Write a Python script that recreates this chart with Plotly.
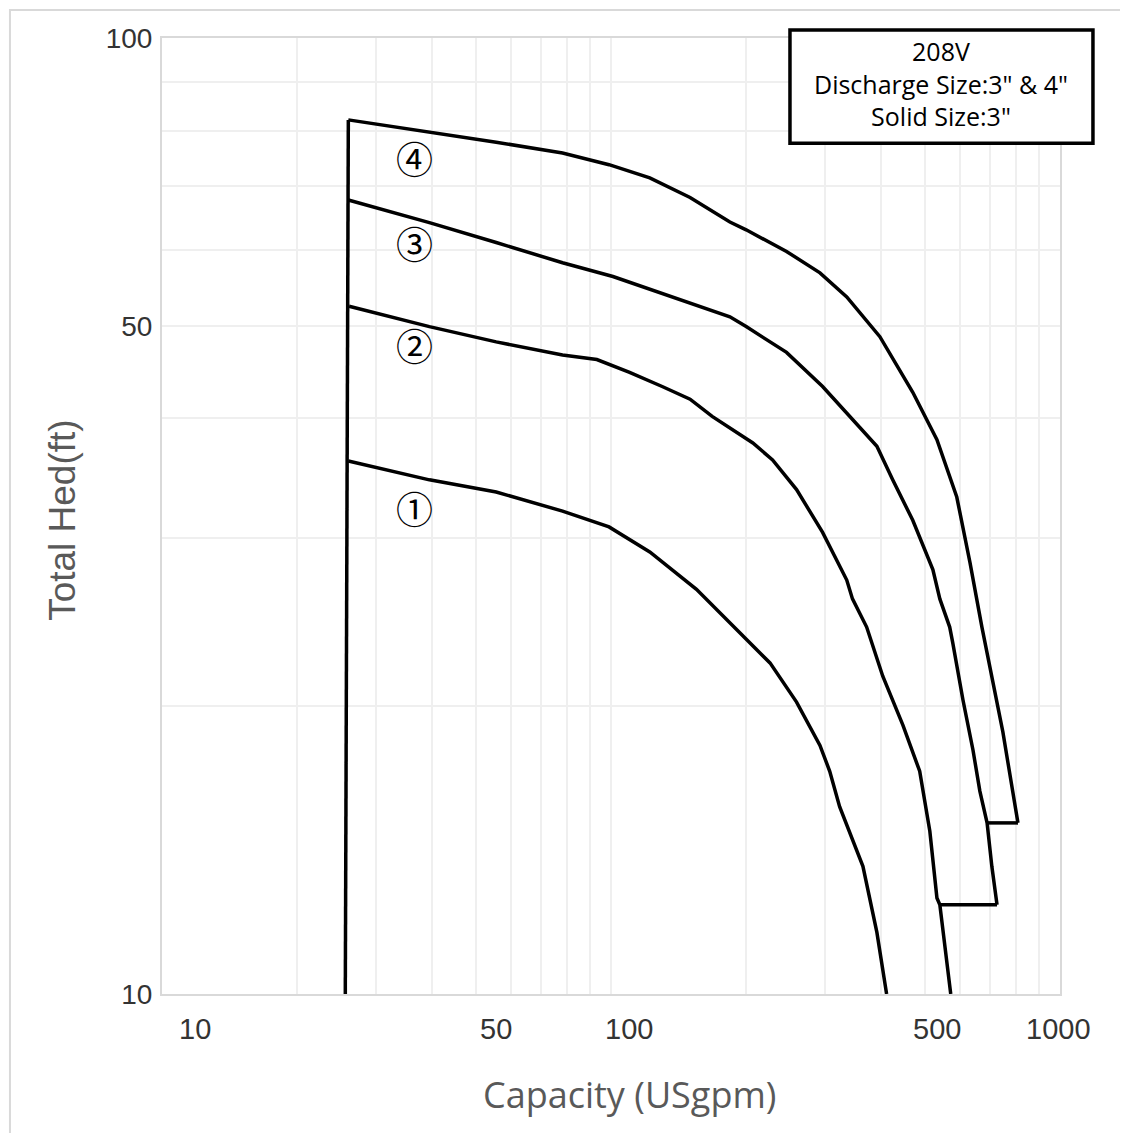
import numpy as np
import plotly.graph_objects as go

# ---- data (Capacity USgpm, Total Head ft) ----
edge_x = [25.6, 26.0]
edge_y = [10.0, 82.1]

c1_x = [26, 39.4, 55.5, 78, 99, 122, 155, 190, 226, 259, 292, 307, 323, 364, 391, 411]
c1_y = [36.1, 34.5, 33.5, 32.0, 30.8, 29.0, 26.5, 24.1, 22.2, 20.2, 18.2, 17.1, 15.7, 13.6, 11.6, 10.0]

c2_x = [26.1, 39.4, 55.5, 78, 93, 110, 130, 150, 168, 207, 229, 259, 296, 335, 345, 371, 403, 447, 487, 513, 532, 540, 571]
c2_y = [52.4, 49.9, 48.1, 46.6, 46.1, 44.7, 43.2, 41.9, 40.2, 37.7, 36.2, 33.7, 30.4, 27.1, 25.9, 24.2, 21.5, 19.1, 17.1, 14.8, 12.6, 12.4, 10.0]

c3_x = [26, 39.4, 55.5, 78, 101, 130, 184, 200, 246, 296, 345, 391, 424, 470, 521, 540, 568, 577, 608, 640, 663, 688, 705, 724]
c3_y = [67.7, 64.1, 61.1, 58.2, 56.3, 54.1, 51.1, 49.9, 46.9, 43.2, 39.9, 37.4, 34.5, 31.3, 27.8, 25.9, 24.2, 23.3, 20.3, 18.0, 16.3, 15.1, 13.6, 12.4]

c4_x = [26, 39.4, 55.5, 78, 99, 122, 150, 184, 200, 246, 292, 335, 397, 470, 532, 589, 630, 670, 698, 746, 806]
c4_y = [82.1, 79.8, 77.8, 75.8, 73.7, 71.4, 68.1, 64.2, 63.0, 59.8, 56.8, 53.6, 48.7, 42.6, 38.0, 33.1, 28.3, 24.2, 22.0, 18.8, 15.1]

# end connectors (range limits)
link43_x = [806, 688]
link43_y = [15.1, 15.1]
link32_x = [724, 540]
link32_y = [12.4, 12.4]

curve_labels = ["①", "②", "③", "④"]
label_x = [36.5, 36.5, 36.5, 36.5]
label_y = [31.7, 47.0, 60.1, 73.7]

x_grid_vals = [10, 20, 30, 40, 50, 60, 70, 80, 90, 100, 200, 300, 400, 500, 600, 700, 800, 900, 1000]
y_grid_vals = [10, 20, 30, 40, 50, 60, 70, 80, 90, 100]
y_tick_text = ["10", "", "", "", "50", "", "", "", "", "100"]
x_label_vals = [10, 50, 100, 500, 1000]
x_label_shift = [33, 20, 18, 12, -2]
major_x_grid = [100]

info_lines = ["208V", "Discharge Size:3\" &amp; 4\"", "Solid Size:3\""]

fig = go.Figure()
line_style = dict(color="black", width=3.5)
for xs, ys in [(edge_x, edge_y), (c1_x, c1_y), (c2_x, c2_y), (c3_x, c3_y), (c4_x, c4_y),
               (link43_x, link43_y), (link32_x, link32_y)]:
    fig.add_trace(go.Scatter(x=xs, y=ys, mode="lines", line=line_style,
                             showlegend=False, hoverinfo="skip"))

fig.add_trace(go.Scatter(x=label_x, y=label_y, mode="text", text=curve_labels,
                         textfont=dict(family="Noto Sans CJK JP", size=37, color="black"),
                         showlegend=False, hoverinfo="skip"))

for v in major_x_grid:
    fig.add_shape(type="line", xref="x", yref="paper", x0=v, x1=v, y0=0, y1=1,
                  line=dict(color="#d4d4d4", width=1), layer="below")

# outer chart frame
fig.add_shape(type="rect", xref="paper", yref="paper", x0=-0.1693, x1=1.6, y0=-1.0, y1=1.0293,
              line=dict(color="#d9d9d9", width=2), fillcolor="rgba(0,0,0,0)", layer="below")

# info box
fig.add_shape(type="rect", xref="paper", yref="paper", x0=0.6993, x1=1.0367, y0=0.890, y1=1.0084,
              line=dict(color="black", width=3.5), fillcolor="white", layer="above")
fig.add_annotation(xref="paper", yref="paper", x=0.868, y=0.9529, text="<br>".join(info_lines),
                   showarrow=False, xanchor="center", yanchor="middle", align="center",
                   font=dict(family="Open Sans, Lato, sans-serif", size=25, color="black"))

# x tick labels
for v, s in zip(x_label_vals, x_label_shift):
    fig.add_annotation(xref="x", yref="paper", x=np.log10(v), y=0, yshift=-35, xshift=s,
                       text=str(v), showarrow=False, xanchor="center", yanchor="middle",
                       font=dict(family="Liberation Sans", size=29, color="#333333"))

# axis titles
fig.add_annotation(xref="paper", yref="paper", x=0.521, y=-0.1056, text="Capacity (USgpm)",
                   showarrow=False, xanchor="center", yanchor="middle",
                   font=dict(family="Open Sans", size=36, color="#595959"))
fig.add_annotation(xref="paper", yref="paper", x=-0.1102, y=0.496, text="Total Hed(ft)",
                   showarrow=False, xanchor="center", yanchor="middle", textangle=-90,
                   font=dict(family="Liberation Sans", size=37, color="#595959"))

fig.update_xaxes(type="log", range=[1, 3], tickvals=x_grid_vals, showticklabels=False,
                 showgrid=True, gridcolor="#efefef", gridwidth=2,
                 showline=True, linecolor="#d9d9d9", linewidth=2, mirror=True,
                 zeroline=False, ticks="")
fig.update_yaxes(type="log", range=[1, 2], tickvals=y_grid_vals, ticktext=y_tick_text,
                 showgrid=True, gridcolor="#efefef", gridwidth=2,
                 showline=True, linecolor="#d9d9d9", linewidth=2, mirror=True,
                 zeroline=False, ticks="", ticklabelstandoff=2,
                 tickfont=dict(family="Liberation Sans", size=28, color="#333333"))

# page body adds an 8px offset, so margins are reduced by 8px to keep the plot area in place
fig.update_layout(width=1120, height=1125, margin=dict(l=154, r=68, t=30, b=139),
                  plot_bgcolor="white", paper_bgcolor="white", showlegend=False)

fig.write_html("out.html")
